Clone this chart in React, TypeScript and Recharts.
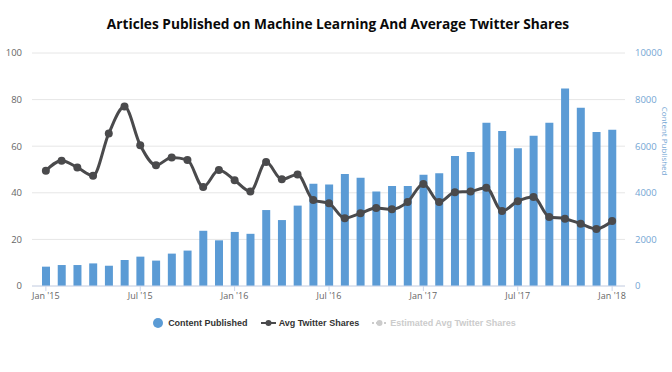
import React from "react";
import {
  Bar,
  CartesianGrid,
  ComposedChart,
  Line,
  XAxis,
  YAxis,
} from "recharts";

const months = [
  "Jan '15", "Feb '15", "Mar '15", "Apr '15", "May '15", "Jun '15",
  "Jul '15", "Aug '15", "Sep '15", "Oct '15", "Nov '15", "Dec '15",
  "Jan '16", "Feb '16", "Mar '16", "Apr '16", "May '16", "Jun '16",
  "Jul '16", "Aug '16", "Sep '16", "Oct '16", "Nov '16", "Dec '16",
  "Jan '17", "Feb '17", "Mar '17", "Apr '17", "May '17", "Jun '17",
  "Jul '17", "Aug '17", "Sep '17", "Oct '17", "Nov '17", "Dec '17",
  "Jan '18",
];

const contentPublished = [
  830, 900, 900, 970, 870, 1120, 1260, 1090, 1390, 1520, 2370, 1960,
  2320, 2240, 3260, 2830, 3450, 4390, 4360, 4810, 4650, 4060, 4290, 4290,
  4780, 4840, 5580, 5750, 7010, 6650, 5910, 6450, 7010, 8480, 7650, 6610,
  6710,
];

const avgTwitterShares = [
  49.5, 53.8, 50.9, 47.3, 65.5, 77.0, 60.4, 51.8, 55.2, 54.1, 42.5, 49.8,
  45.4, 40.6, 53.2, 45.8, 47.9, 36.9, 35.5, 29.1, 31.2, 33.5, 32.9, 36.1,
  43.8, 36.1, 40.2, 40.6, 42.2, 32.2, 36.4, 38.2, 29.6, 28.9, 26.7, 24.5,
  27.9,
];

const leftTicks = [0, 20, 40, 60, 80, 100];
const rightTicks = [0, 2000, 4000, 6000, 8000, 10000];

const BAR_COLOR = "#5b9bd5";
const LINE_COLOR = "#4a4a4c";
const AXIS_BLUE = "#74a6d4";
const FONT = "'Open Sans', 'DejaVu Sans', sans-serif";

const rows = months.map((m, i) => ({
  month: m,
  content: contentPublished[i],
  shares: avgTwitterShares[i],
}));

function LegendBar() {
  const item: React.CSSProperties = {
    display: "flex",
    alignItems: "center",
    fontFamily: "'Liberation Sans', Arial, sans-serif",
    fontWeight: 700,
    fontSize: 9,
    whiteSpace: "nowrap",
  };
  return (
    <div
      style={{
        position: "absolute",
        top: 317,
        left: 0,
        width: 672,
        display: "flex",
        justifyContent: "center",
        gap: 13,
        paddingRight: 4,
        boxSizing: "border-box",
      }}
    >
      <div style={{ ...item, color: "#333" }}>
        <svg width={12} height={12} style={{ marginRight: 4 }}>
          <circle cx={6} cy={6} r={5} fill={BAR_COLOR} />
        </svg>
        Content Published
      </div>
      <div style={{ ...item, color: "#333" }}>
        <svg width={15} height={12} style={{ marginRight: 3 }}>
          <line x1={0} y1={6} x2={15} y2={6} stroke={LINE_COLOR} strokeWidth={2} />
          <circle cx={7.5} cy={6} r={3} fill={LINE_COLOR} />
        </svg>
        Avg Twitter Shares
      </div>
      <div style={{ ...item, color: "#cccccc" }}>
        <svg width={15} height={12} style={{ marginRight: 3 }}>
          <line x1={0} y1={6} x2={15} y2={6} stroke="#cccccc" strokeWidth={2} strokeDasharray="2 2" />
          <circle cx={7.5} cy={6} r={3} fill="#cccccc" />
        </svg>
        Estimated Avg Twitter Shares
      </div>
    </div>
  );
}

export default function App() {
  return (
    <div
      style={{
        position: "absolute",
        left: 0,
        top: 0,
        width: 672,
        height: 372,
        background: "#fff",
        overflow: "hidden",
      }}
    >
      <div
        style={{
          position: "absolute",
          top: 14,
          left: 0,
          width: 672,
          textAlign: "center",
          fontFamily: FONT,
          fontWeight: 700,
          fontSize: 13.7,
          color: "#0a0a0a",
          paddingLeft: 4,
          boxSizing: "border-box",
        }}
      >
        Articles Published on Machine Learning And Average Twitter Shares
      </div>
      <ComposedChart
        width={672}
        height={372}
        data={rows}
        margin={{ top: 53, right: 0, bottom: 62, left: 0 }}
        style={{ position: "absolute", left: 0, top: 0 }}
      >
        <CartesianGrid vertical={false} stroke="#e6e6e6" yAxisId="left" />
        <XAxis
          dataKey="month"
          interval={5}
          height={24}
          padding={{ left: 6, right: 5 }}
          tickSize={5}
          tickMargin={2}
          stroke="#ccd6eb"
          tick={{ fill: "#666", fontSize: 9, fontFamily: FONT }}
        />
        <YAxis
          yAxisId="left"
          orientation="left"
          width={32}
          domain={[0, 100]}
          ticks={leftTicks}
          axisLine={false}
          tickLine={false}
          tickSize={0}
          tickMargin={10}
          tick={{ fill: "#666", fontSize: 9.5, fontFamily: FONT }}
        />
        <YAxis
          yAxisId="right"
          orientation="right"
          width={47}
          domain={[0, 10000]}
          ticks={rightTicks}
          axisLine={false}
          tickLine={false}
          tickSize={0}
          tickMargin={10}
          tick={{ fill: AXIS_BLUE, fontSize: 9.5, fontFamily: FONT, textAnchor: "start" }}
          label={{
            value: "Content Published",
            angle: 90,
            position: "insideRight",
            dx: -2,
            dy: 6,
            fill: AXIS_BLUE,
            fontSize: 8,
            fontFamily: FONT,
          }}
        />
        <Bar
          yAxisId="right"
          dataKey="content"
          fill={BAR_COLOR}
          barSize={8}
          isAnimationActive={false}
        />
        <Line
          yAxisId="left"
          dataKey="shares"
          type="monotone"
          stroke={LINE_COLOR}
          strokeWidth={3}
          dot={{ r: 4, fill: LINE_COLOR, stroke: LINE_COLOR, strokeWidth: 0 }}
          activeDot={false}
          isAnimationActive={false}
        />
      </ComposedChart>
      <LegendBar />
    </div>
  );
}
